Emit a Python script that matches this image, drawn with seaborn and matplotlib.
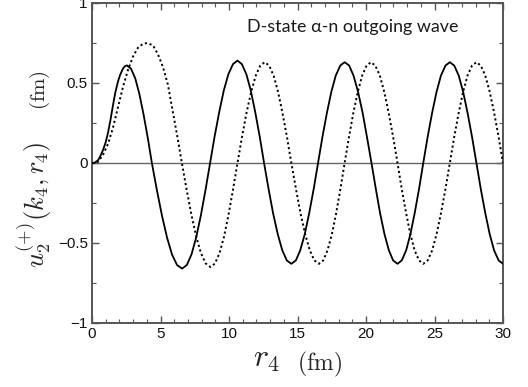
import numpy as np
import pandas as pd
import matplotlib
matplotlib.use("Agg")
import matplotlib.pyplot as plt
import seaborn as sns
from matplotlib.ticker import FixedLocator, FixedFormatter, MultipleLocator

# ---- data ----
r_solid = [0, 0.2, 0.44, 0.62, 0.8, 1.0, 1.17, 1.35, 1.53, 1.7, 1.9, 2.05, 2.26, 2.4, 2.55,
           2.85, 3.16, 3.46, 3.76, 4.07, 4.37,
           4.74, 5.11, 5.48, 5.84, 6.21, 6.58,
           6.92, 7.26, 7.60, 7.94, 8.28, 8.62,
           8.95, 9.29, 9.62, 9.95, 10.29, 10.62,
           10.94, 11.27, 11.59, 11.91, 12.24, 12.56,
           12.89, 13.22, 13.56, 13.89, 14.22, 14.55,
           14.88, 15.20, 15.53, 15.85, 16.18, 16.50,
           16.82, 17.15, 17.47, 17.79, 18.12, 18.44,
           18.77, 19.09, 19.42, 19.75, 20.07, 20.40,
           20.72, 21.03, 21.35, 21.67, 21.98, 22.30,
           22.61, 22.93, 23.24, 23.55, 23.87, 24.18,
           24.50, 24.83, 25.15, 25.47, 25.80, 26.12,
           26.44, 26.77, 27.09, 27.41, 27.74, 28.06,
           28.38, 28.71, 29.03, 29.35, 29.68, 30.0]
u_solid = [0, 0.002, 0.017, 0.045, 0.08, 0.13, 0.19, 0.27, 0.36, 0.44, 0.51, 0.55, 0.59, 0.605, 0.61,
           0.589, 0.528, 0.431, 0.305, 0.158, 0.0,
           -0.171, -0.33, -0.467, -0.572, -0.638, -0.66,
           -0.638, -0.572, -0.467, -0.33, -0.171, 0.0,
           0.166, 0.32, 0.453, 0.554, 0.618, 0.64,
           0.618, 0.554, 0.453, 0.32, 0.166, 0.0,
           -0.163, -0.315, -0.445, -0.546, -0.609, -0.63,
           -0.609, -0.546, -0.445, -0.315, -0.163, 0.0,
           0.163, 0.315, 0.445, 0.546, 0.609, 0.63,
           0.609, 0.546, 0.445, 0.315, 0.163, 0.0,
           -0.163, -0.315, -0.445, -0.546, -0.609, -0.63,
           -0.609, -0.546, -0.445, -0.315, -0.163, 0.0,
           0.163, 0.315, 0.445, 0.546, 0.609, 0.63,
           0.609, 0.546, 0.445, 0.315, 0.163, 0.0,
           -0.163, -0.315, -0.445, -0.546, -0.609, -0.63]

r_dotted = [0, 0.2, 0.44, 0.8, 1.17, 1.53, 1.9, 2.26, 2.62, 2.99, 3.35, 3.72, 4.03,
            4.45, 4.81, 5.18, 5.54, 5.90, 6.23, 6.56,
            6.91, 7.26, 7.61, 7.95, 8.30, 8.65,
            8.98, 9.31, 9.64, 9.96, 10.29, 10.62,
            10.95, 11.28, 11.62, 11.95, 12.28, 12.61,
            12.93, 13.26, 13.58, 13.90, 14.23, 14.55,
            14.89, 15.22, 15.56, 15.90, 16.23, 16.57,
            16.88, 17.19, 17.51, 17.82, 18.13, 18.44,
            18.76, 19.08, 19.40, 19.72, 20.04, 20.36,
            20.68, 21.01, 21.33, 21.65, 21.98, 22.30,
            22.61, 22.93, 23.24, 23.55, 23.87, 24.18,
            24.50, 24.83, 25.15, 25.47, 25.80, 26.12,
            26.44, 26.77, 27.09, 27.41, 27.74, 28.06,
            28.38, 28.71, 29.03, 29.35, 29.68, 30.0]
u_dotted = [0, 0.001, 0.008, 0.05, 0.12, 0.22, 0.35, 0.475, 0.58, 0.665, 0.72, 0.745, 0.75,
            0.735, 0.68, 0.60, 0.49, 0.32, 0.165, 0.0,
            -0.168, -0.325, -0.46, -0.563, -0.628, -0.65,
            -0.628, -0.563, -0.46, -0.325, -0.168, 0.0,
            0.163, 0.315, 0.445, 0.546, 0.609, 0.63,
            0.609, 0.546, 0.445, 0.315, 0.163, 0.0,
            -0.163, -0.315, -0.445, -0.546, -0.609, -0.63,
            -0.609, -0.546, -0.445, -0.315, -0.163, 0.0,
            0.163, 0.315, 0.445, 0.546, 0.609, 0.63,
            0.609, 0.546, 0.445, 0.315, 0.163, 0.0,
            -0.163, -0.315, -0.445, -0.546, -0.609, -0.63,
            -0.609, -0.546, -0.445, -0.315, -0.163, 0.0,
            0.163, 0.315, 0.445, 0.546, 0.609, 0.63,
            0.609, 0.546, 0.445, 0.315, 0.163, 0.0]

x_ticks = [0, 5, 10, 15, 20, 25, 30]
x_ticklabels = ["0", "5", "10", "15", "20", "25", "30"]
y_ticks = [-1, -0.5, 0, 0.5, 1]
y_ticklabels = ["\u22121", "\u22120.5", "0", "0.5", "1"]
annotation = "D-state \u03b1-n outgoing wave"
x_symbol = r"$r_4$"
y_symbol = r"$u_2^{(+)}(k_4,r_4)$"
unit = r"$(\mathrm{fm})$"

# ---- plotting ----
sns.set_style("white")
plt.rcParams["font.family"] = ["Liberation Sans", "DejaVu Sans"]
plt.rcParams["mathtext.fontset"] = "cm"

W, H = 528, 387
fig = plt.figure(figsize=(W / 100, H / 100), dpi=100)
ax = fig.add_axes([92 / W, 1 - 323 / H, 411 / W, 320 / H])

df_s = pd.DataFrame({"r": r_solid, "u": u_solid})
df_d = pd.DataFrame({"r": r_dotted, "u": u_dotted})

ax.axhline(0, color="#666666", lw=1.0, zorder=1)
sns.lineplot(data=df_s, x="r", y="u", ax=ax, color="black", lw=1.3, sort=False, zorder=3)
sns.lineplot(data=df_d, x="r", y="u", ax=ax, color="black", lw=1.4, ls=(0, (1.1, 1.4)),
             sort=False, zorder=3)

ax.set_xlim(0, 30)
ax.set_ylim(-1, 1)
ax.xaxis.set_major_locator(FixedLocator(x_ticks))
ax.xaxis.set_major_formatter(FixedFormatter(x_ticklabels))
ax.xaxis.set_minor_locator(MultipleLocator(1))
ax.yaxis.set_major_locator(FixedLocator(y_ticks))
ax.yaxis.set_major_formatter(FixedFormatter(y_ticklabels))
ax.yaxis.set_minor_locator(MultipleLocator(0.25))

ax.tick_params(which="both", direction="in", top=True, right=True, bottom=True, left=True,
               color="#555555", labelsize=11, labelcolor="#111111")
ax.tick_params(which="major", length=5, width=1.0, pad=3)
ax.tick_params(which="minor", length=3, width=0.8)

for sp in ax.spines.values():
    sp.set_color("#555555")
    sp.set_linewidth(1.4)

ax.set_xlabel("")
ax.set_ylabel("")

# x label: large symbol, smaller unit
fig.text(253 / W, 1 - 367 / H, x_symbol, fontsize=23, ha="left", va="baseline")
fig.text(297 / W, 1 - 370 / H, unit, fontsize=17, ha="left", va="baseline")

# y label (rotated), baseline at x~45 px
fig.text(45 / W, 1 - 205 / H, y_symbol, fontsize=19, rotation=90, rotation_mode="anchor",
         ha="center", va="baseline")
fig.text(45 / W, 1 - 90 / H, unit, fontsize=15, rotation=90, rotation_mode="anchor",
         ha="center", va="baseline")

ax.text(11.3, 0.85, annotation, fontsize=12.9, family=["Lato", "DejaVu Sans"],
        color="#1a1a1a", va="center", ha="left")

fig.savefig("out.png", dpi=100)
